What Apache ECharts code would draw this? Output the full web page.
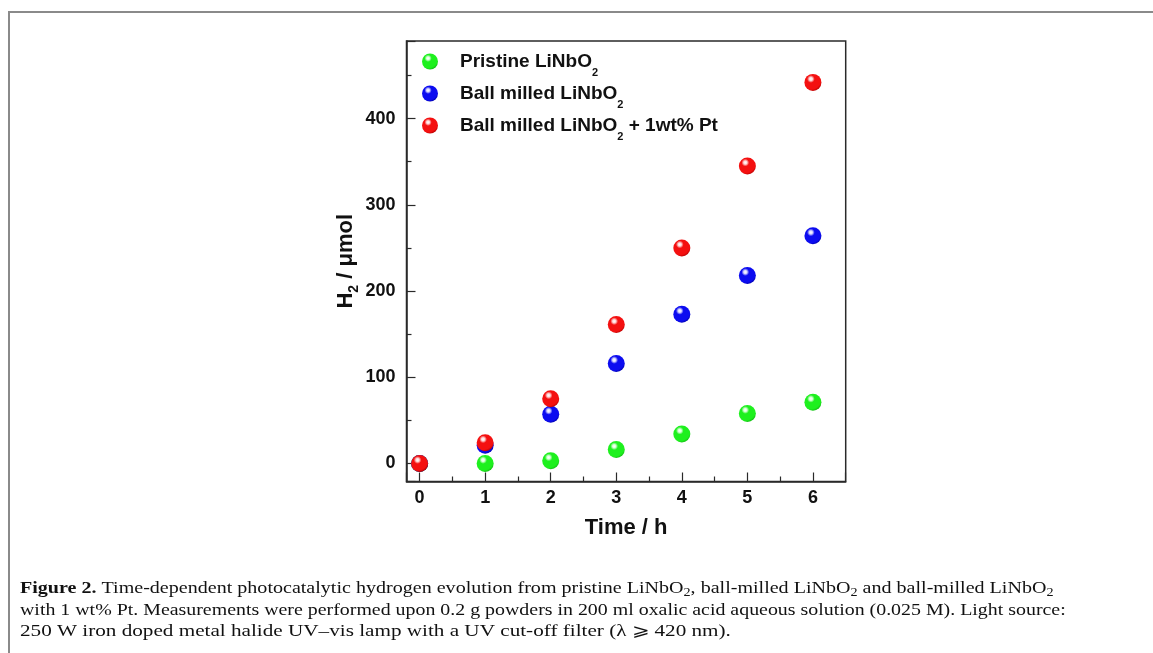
<!DOCTYPE html>
<html>
<head>
<meta charset="utf-8">
<script src="https://cdn.jsdelivr.net/npm/echarts@6/dist/echarts.min.js"></script>
<style>
html,body{margin:0;padding:0;background:#fff;}
#chart{width:1153px;height:653px;}
</style>
</head>
<body>
<div id="chart"></div>
<script>
// ---- data ----
const times = [0, 1, 2, 3, 4, 5, 6];
const pristine = [0, 0, 3, 16, 34, 58, 71];
const ballMilled = [0, 21, 57, 116, 173, 218, 264];
const ballMilledPt = [0, 24, 75, 161, 250, 345, 442];
const seriesNames = ['Pristine LiNbO2', 'Ball milled LiNbO2', 'Ball milled LiNbO2 + 1wt% Pt'];
const legendLabels = ['Pristine LiNbO{sub|2}', 'Ball milled LiNbO{sub|2}', 'Ball milled LiNbO{sub|2} + 1wt% Pt'];
const xTickLabels = [0, 1, 2, 3, 4, 5, 6];
const yTickLabels = [0, 100, 200, 300, 400];
const captionLines = [
  '{b|Figure 2.} Time-dependent photocatalytic hydrogen evolution from pristine LiNbO{s|2}, ball-milled LiNbO{s|2} and ball-milled LiNbO{s|2}',
  'with 1 wt% Pt. Measurements were performed upon 0.2 g powders in 200 ml oxalic acid aqueous solution (0.025 M). Light source:',
  '250 W iron doped metal halide UV\u2013vis lamp with a UV cut-off filter (\u03bb \u2a7e 420 nm).'
];
const captionScale = [1.18, 1.17, 1.245];

function sphere(light, base, dark) {
  return {
    type: 'radial', x: 0.38, y: 0.3, r: 0.75,
    colorStops: [
      {offset: 0, color: '#ffffff'},
      {offset: 0.13, color: light},
      {offset: 0.3, color: base},
      {offset: 0.8, color: base},
      {offset: 1, color: dark}
    ]
  };
}
const styles = [
  sphere('#d8ffd8', '#1ef01e', '#12b412'),
  sphere('#d8d8ff', '#0c0cf0', '#0000a8'),
  sphere('#ffd8d8', '#f41010', '#b40000')
];
const seriesData = [pristine, ballMilled, ballMilledPt];

const FONT = '"Liberation Sans", Arial, sans-serif';
const SERIF = '"Liberation Serif", "Times New Roman", serif';

const chart = echarts.init(document.getElementById('chart'), null, {renderer: 'canvas'});

const captionRich = {
  b: {fontFamily: SERIF, fontWeight: 'bold', fontSize: 17, fill: '#111', color: '#111'},
  s: {fontFamily: SERIF, fontSize: 12, padding: [8, 0, 0, 0], color: '#111', fill: '#111'}
};

const option = {
  animation: false,
  backgroundColor: '#ffffff',
  grid: {
    left: 406.5, top: 41, width: 439.2, height: 440.5,
    show: true, borderColor: '#2a2a2a', borderWidth: 1.5, containLabel: false
  },
  legend: {
    orient: 'vertical',
    left: 422, top: 52,
    padding: 0,
    itemWidth: 50, itemHeight: 16, itemGap: 6,
    selectedMode: false,
    icon: 'circle',
    data: seriesNames,
    formatter: function (name) { return legendLabels[seriesNames.indexOf(name)]; },
    textStyle: {
      fontFamily: FONT, fontWeight: 'bold', fontSize: 19, color: '#111',
      rich: {
        sub: {fontFamily: FONT, fontWeight: 'bold', fontSize: 11, color: '#111', padding: [22, 0, 0, 0]}
      }
    }
  },
  xAxis: {
    type: 'value', min: -0.2, max: 6.5,
    name: 'Time / h', nameLocation: 'middle', nameGap: 35,
    nameTextStyle: {fontFamily: FONT, fontWeight: 'bold', fontSize: 22, color: '#111'},
    axisLine: {show: true, onZero: false, lineStyle: {color: '#2a2a2a', width: 1.5}},
    axisTick: {show: true, inside: true, length: 9, lineStyle: {color: '#2a2a2a', width: 1.2}},
    minorTick: {show: true, splitNumber: 2, length: 5, lineStyle: {color: '#2a2a2a', width: 1.2}},
    splitLine: {show: false},
    axisLabel: {
      margin: 8, fontFamily: FONT, fontWeight: 'bold', fontSize: 18, color: '#111',
      formatter: function (v) { return xTickLabels.indexOf(v) >= 0 ? String(v) : ''; }
    }
  },
  yAxis: {
    type: 'value', min: -21, max: 490,
    name: 'H{sub|2} / \u03bcmol', nameLocation: 'middle', nameGap: 30, nameRotate: 90,
    nameTextStyle: {
      fontFamily: FONT, fontWeight: 'bold', fontSize: 22, color: '#111',
      rich: {sub: {fontFamily: FONT, fontWeight: 'bold', fontSize: 14, color: '#111', padding: [18, 0, 0, 0]}}
    },
    axisLine: {show: true, onZero: false, lineStyle: {color: '#2a2a2a', width: 1.5}},
    axisTick: {show: true, inside: true, length: 9, lineStyle: {color: '#2a2a2a', width: 1.2}},
    minorTick: {show: true, splitNumber: 2, length: 5, lineStyle: {color: '#2a2a2a', width: 1.2}},
    splitLine: {show: false},
    axisLabel: {
      margin: 11, fontFamily: FONT, fontWeight: 'bold', fontSize: 18, color: '#111',
      formatter: function (v) { return yTickLabels.indexOf(v) >= 0 ? String(v) : ''; }
    }
  },
  series: seriesNames.map(function (name, i) {
    return {
      name: name, type: 'scatter', symbol: 'circle', symbolSize: 17,
      itemStyle: {color: styles[i], opacity: 1},
      data: times.map(function (t, j) { return [t, seriesData[i][j]]; }),
      z: 2 + i
    };
  }),
  graphic: [
    {type: 'line', shape: {x1: 8, y1: 12, x2: 1153, y2: 12}, style: {stroke: '#8a8a8a', lineWidth: 2}, silent: true},
    {type: 'line', shape: {x1: 9, y1: 12, x2: 9, y2: 653}, style: {stroke: '#8a8a8a', lineWidth: 2}, silent: true}
  ].concat(captionLines.map(function (line, i) {
    return {
      type: 'text', x: 20, y: 589 + i * 21.5, scaleX: captionScale[i], silent: true,
      style: {
        text: line, fontFamily: SERIF, fontSize: 17, fill: '#111',
        verticalAlign: 'middle', align: 'left', rich: captionRich
      }
    };
  }))
};
chart.setOption(option);
</script>
</body>
</html>
